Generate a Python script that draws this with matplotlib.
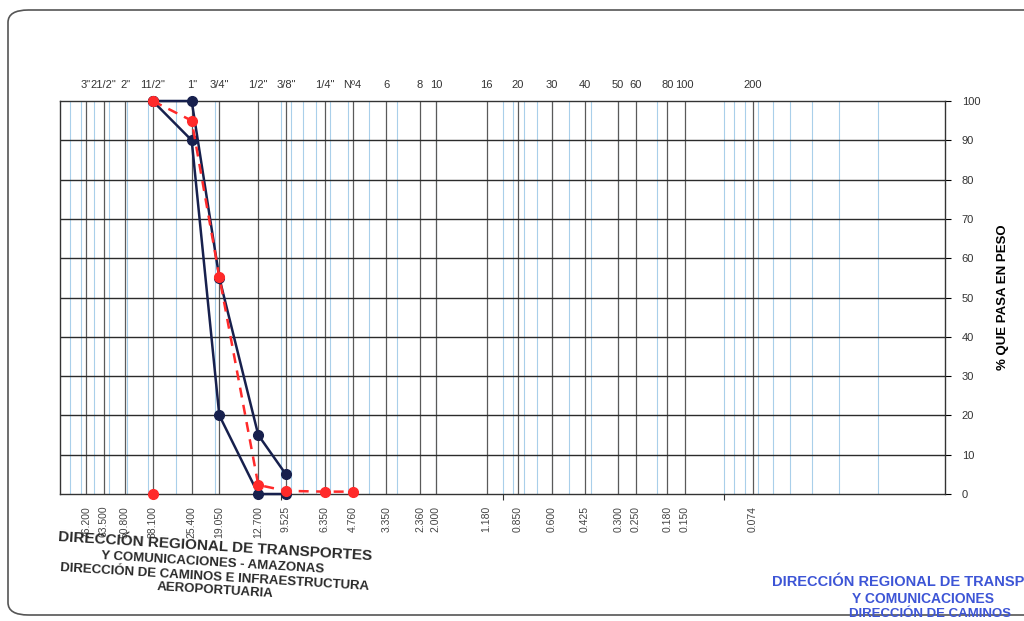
import matplotlib.pyplot as plt
from matplotlib.patches import FancyBboxPatch
from matplotlib.transforms import blended_transform_factory

plt.rcParams['font.family'] = ['Liberation Sans', 'DejaVu Sans']

# Sieve openings (mm) and their names
sieveSizes = [76.2, 63.5, 50.8, 38.1, 25.4, 19.05, 12.7, 9.525, 6.35, 4.76, 3.35,
              2.36, 2.0, 1.18, 0.85, 0.6, 0.425, 0.3, 0.25, 0.18, 0.15, 0.074]
sieveMm = ["76.200", "63.500", "50.800", "38.100", "25.400", "19.050", "12.700",
           "9.525", "6.350", "4.760", "3.350", "2.360", "2.000", "1.180", "0.850",
           "0.600", "0.425", "0.300", "0.250", "0.180", "0.150", "0.074"]
sieveNames = ['3"', '21/2"', '2"', '11/2"', '1"', '3/4"', '1/2"', '3/8"', '1/4"', 'Nº4',
              '6', '8', '10', '16', '20', '30', '40', '50', '60', '80', '100', '200']

# Specification band (upper and lower limit)
limitSizes = [38.1, 25.4, 19.05, 12.7, 9.525]
upperPass = [100, 100, 55, 15, 5]
lowerPass = [100, 90, 20, 0, 0]

# Sample curve
sampleSizes = [38.1, 25.4, 19.05, 12.7, 9.525, 6.35, 4.76]
samplePass = [100, 95, 55.3, 2.3, 0.8, 0.6, 0.6]
loosePointSize = [38.1]
loosePointPass = [0]

navy = '#17204d'
red = '#ff2a2a'

fig = plt.figure(figsize=(10.24, 6.21), dpi=100)
fig.patch.set_facecolor('white')

# page frame of the form
frame = FancyBboxPatch((8 / 1024, 6 / 621), 1.1, 605 / 621,
                       boxstyle="round,pad=0,rounding_size=0.02",
                       transform=fig.transFigure, fill=False,
                       edgecolor='#555555', linewidth=1.2)
fig.patches.append(frame)

ax = fig.add_axes([60 / 1024, 127 / 621, 885 / 1024, 393 / 621])
ax.set_xscale('log')
ax.set_xlim(100, 0.01)
ax.set_ylim(0, 100)

# light blue log grid
for dec in [0.01, 0.1, 1, 10]:
    for k in range(1, 10):
        v = k * dec
        if 0.01 < v < 100:
            ax.axvline(v, color='#a9cfea', linewidth=0.8, zorder=1)
# dark lines at every sieve
for s in sieveSizes:
    ax.axvline(s, color='#5a5a5a', linewidth=0.9, zorder=2)
for p in range(10, 100, 10):
    ax.axhline(p, color='#2b2b2b', linewidth=1.0, zorder=2)

# curves
ax.plot(limitSizes, upperPass, '-o', color=navy, linewidth=1.8, markersize=7,
        zorder=4, clip_on=False)
ax.plot(limitSizes, lowerPass, '-o', color=navy, linewidth=1.8, markersize=7,
        zorder=4, clip_on=False)
ax.plot(sampleSizes, samplePass, '--o', color=red, linewidth=1.8, markersize=7,
        dashes=(4, 3), zorder=5, clip_on=False)
ax.plot(loosePointSize, loosePointPass, 'o', color=red, markersize=7,
        zorder=5, clip_on=False)

# axes and ticks
for sp in ax.spines.values():
    sp.set_color('#333333')
    sp.set_linewidth(1.0)
ax.yaxis.tick_right()
ax.set_yticks(range(0, 101, 10))
ax.tick_params(axis='y', length=4, labelsize=8, labelcolor='#333333', pad=8)
ax.set_xticks([0.1, 1, 10])
ax.set_xticklabels([])
ax.xaxis.set_minor_locator(plt.NullLocator())
ax.tick_params(axis='x', length=4, color='#333333')
ax.yaxis.set_label_position('right')
ax.set_ylabel('% QUE PASA EN PESO', fontsize=9.5, fontweight='bold', labelpad=12)

# sieve labels above and below
trans = blended_transform_factory(ax.transData, ax.transAxes)
for s, mm, nm in zip(sieveSizes, sieveMm, sieveNames):
    ax.text(s, 1.04, nm, transform=trans, ha='center', va='center',
            fontsize=8, color='#333333')
    ax.text(s, -0.03, mm, transform=trans, ha='center', va='top',
            rotation=90, fontsize=7.5, color='#444444')

# stamps at the bottom of the sheet
stampBlack = ["DIRECCIÓN REGIONAL DE TRANSPORTES", "Y COMUNICACIONES - AMAZONAS",
              "DIRECCIÓN DE CAMINOS E INFRAESTRUCTURA", "AEROPORTUARIA"]
stampX = [215, 213, 215, 215]
stampY = [547, 563, 577, 591]
stampSize = [11, 9.5, 9.5, 9.5]
for t, x, y, fs in zip(stampBlack, stampX, stampY, stampSize):
    fig.text(x / 1024, 1 - y / 621, t, ha='center', va='center', fontsize=fs,
             fontweight='bold', color='#2a2a2a', rotation=-3.5)

stampBlue = ["DIRECCIÓN REGIONAL DE TRANSP", "Y COMUNICACIONES", "DIRECCIÓN DE CAMINOS"]
fig.text(772 / 1024, 1 - 582 / 621, stampBlue[0], ha='left', va='center',
         fontsize=10.5, fontweight='bold', color='#3d55d6')
fig.text(923 / 1024, 1 - 599 / 621, stampBlue[1], ha='center', va='center',
         fontsize=10, fontweight='bold', color='#3d55d6')
fig.text(930 / 1024, 1 - 614 / 621, stampBlue[2], ha='center', va='center',
         fontsize=9.5, fontweight='bold', color='#3d55d6')

fig.savefig('out.png', dpi=100)
